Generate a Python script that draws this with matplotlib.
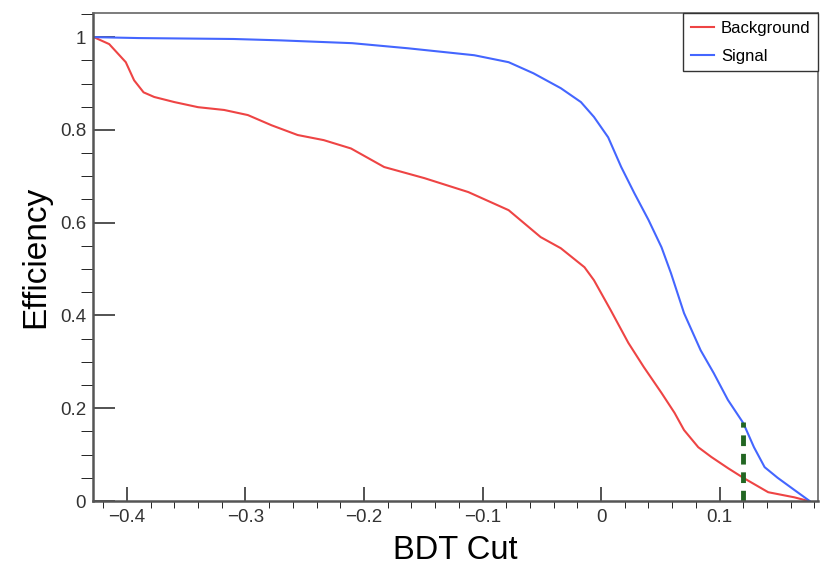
import numpy as np
import matplotlib.pyplot as plt
from matplotlib.ticker import MultipleLocator, FuncFormatter

plt.rcParams['font.family'] = ['Liberation Sans', 'DejaVu Sans']

# background efficiency vs cut
bkg_x = [-0.428, -0.415, -0.401, -0.394, -0.386, -0.377, -0.360, -0.340, -0.318, -0.298,
         -0.278, -0.256, -0.234, -0.211, -0.183, -0.149, -0.112, -0.078, -0.051, -0.034,
         -0.014, -0.006, 0.008, 0.023, 0.036, 0.051, 0.062, 0.070, 0.082, 0.093,
         0.107, 0.120, 0.141, 0.163, 0.175]
bkg_y = [1.0, 0.985, 0.946, 0.907, 0.881, 0.871, 0.860, 0.849, 0.843, 0.832,
         0.810, 0.789, 0.778, 0.760, 0.720, 0.696, 0.666, 0.627, 0.569, 0.545,
         0.504, 0.476, 0.412, 0.341, 0.289, 0.233, 0.190, 0.153, 0.116, 0.095,
         0.071, 0.050, 0.019, 0.008, 0.0]

# signal efficiency vs cut
sig_x = [-0.428, -0.39, -0.31, -0.27, -0.24, -0.21, -0.163, -0.107, -0.078, -0.057,
         -0.034, -0.017, -0.006, 0.006, 0.017, 0.028, 0.040, 0.051, 0.059, 0.070,
         0.084, 0.095, 0.107, 0.120, 0.129, 0.138, 0.149, 0.163, 0.176]
sig_y = [1.0, 0.998, 0.996, 0.993, 0.990, 0.987, 0.976, 0.961, 0.946, 0.922,
         0.890, 0.860, 0.828, 0.784, 0.720, 0.664, 0.606, 0.547, 0.491, 0.405,
         0.325, 0.276, 0.218, 0.168, 0.116, 0.073, 0.050, 0.024, 0.0]

cut_value = 0.12
cut_height = 0.17

fig = plt.figure(figsize=(8.3, 5.66), dpi=100)
ax = fig.add_axes([0.112, 0.1148, 0.8735, 0.8622])

ax.plot(bkg_x, bkg_y, color="#ee4444", lw=1.5, label="Background")
ax.plot(sig_x, sig_y, color="#4466ff", lw=1.5, label="Signal")
ax.plot([cut_value, cut_value], [0, cut_height], color="#226622", lw=3.5,
        ls=(0, (2.2, 1.6)))

ax.set_xlim(-0.4287, 0.183)
ax.set_ylim(0, 1.052)

ax.xaxis.set_major_locator(MultipleLocator(0.1))
ax.xaxis.set_minor_locator(MultipleLocator(0.02))
ax.yaxis.set_major_locator(MultipleLocator(0.2))
ax.yaxis.set_minor_locator(MultipleLocator(0.05))
fmt = FuncFormatter(lambda v, p: ("%g" % round(v, 3)).replace("-", "\u2212"))
ax.xaxis.set_major_formatter(fmt)
ax.yaxis.set_major_formatter(fmt)

ax.tick_params(axis="both", direction="in", colors="#444444", labelcolor="#333333",
               labelsize=13.5, width=1.3)
ax.tick_params(axis="y", which="major", length=16, pad=5)
ax.tick_params(axis="y", which="minor", length=8.5)
ax.tick_params(axis="x", which="major", length=10, pad=6)
ax.tick_params(axis="x", which="minor", length=5)
ax.tick_params(top=False, right=False, which="both")

for side in ["left", "bottom"]:
    ax.spines[side].set_linewidth(1.8)
    ax.spines[side].set_color("#555555")
for side in ["top", "right"]:
    ax.spines[side].set_linewidth(1.2)
    ax.spines[side].set_color("#666666")

ax.set_xlabel("BDT Cut", fontsize=23.5, labelpad=6)
ax.set_ylabel("Efficiency", fontsize=24, labelpad=6)

leg = ax.legend(loc="upper right", bbox_to_anchor=(1.0, 1.0), borderaxespad=0,
                fancybox=False, edgecolor="#333333", framealpha=1, fontsize=12,
                handlelength=1.4, borderpad=0.45, labelspacing=0.8,
                handletextpad=0.4)
leg.get_frame().set_linewidth(1.0)

fig.savefig("out.png", dpi=100)
